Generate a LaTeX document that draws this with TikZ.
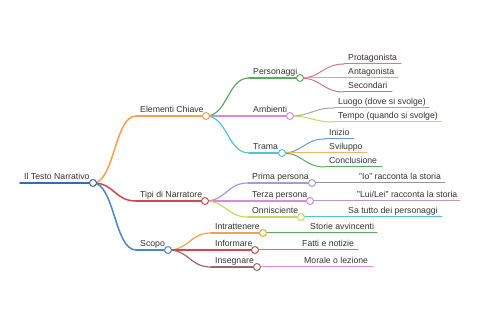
\documentclass[tikz,border=0pt]{standalone}
\usepackage{fontspec}
\setmainfont{Liberation Sans}
\usepackage{xcolor}
\usetikzlibrary{positioning}
\definecolor{textGray}{RGB}{51, 51, 51}
\definecolor{rootBlue}{RGB}{52, 108, 178}
\definecolor{scopoBlue}{RGB}{74, 134, 200}
\definecolor{elemOrange}{RGB}{244, 160, 76}
\definecolor{tipiRed}{RGB}{208, 72, 78}
\definecolor{persGreen}{RGB}{92, 170, 92}
\definecolor{ambPink}{RGB}{216, 138, 216}
\definecolor{tramaCyan}{RGB}{78, 198, 206}
\definecolor{protRose}{RGB}{214, 120, 136}
\definecolor{antLav}{RGB}{184, 166, 224}
\definecolor{secMauve}{RGB}{190, 120, 142}
\definecolor{luogoGray}{RGB}{166, 166, 166}
\definecolor{tempoLime}{RGB}{198, 216, 96}
\definecolor{inizBlue}{RGB}{108, 152, 210}
\definecolor{svilOrange}{RGB}{246, 178, 106}
\definecolor{primaLav}{RGB}{168, 152, 216}
\definecolor{ioGray}{RGB}{156, 138, 168}
\definecolor{luiGray}{RGB}{196, 150, 180}
\definecolor{insBrown}{RGB}{154, 104, 106}
\definecolor{fattiPurple}{RGB}{176, 112, 216}
\definecolor{moralePink}{RGB}{224, 138, 216}

\tikzset{
  mmtext/.style={anchor=base west, inner sep=0pt, text=textGray,
    font=\fontsize{8.7}{10}\selectfont},
  knot/.style={circle, fill=white, minimum size=7pt, inner sep=0pt, line width=1pt},
}

% one node of the map: name, colour, start x, end x, y, text
\newcommand{\mmline}[6]{%
  \coordinate (#1-s) at (#3,#5);
  \coordinate (#1) at (#4,#5);
  \draw[#2] (#1-s) -- (#1);
  \node[mmtext] (#1-t) at (#3+4,#5-3.5) {#6};
}
% link from parent circle to child start
\newcommand{\mmlink}[3]{%
  \draw[#3] (#1) .. controls +(21.5,0) and +(-21.5,0) .. (#2-s);
}

\begin{document}
\begin{tikzpicture}[x=1pt, y=-1pt, line cap=round]
    \useasboundingbox (0,0) rectangle (480,320);
    % Root
    \mmline{root}{rootBlue, line width=1.8pt}{20}{93}{183}{Il Testo Narrativo}
    % Level 1
    \mmline{elem}{elemOrange, line width=1.5pt}{136}{206}{116}{Elementi Chiave}
    \mmline{tipi}{tipiRed, line width=1.5pt}{136}{205}{201}{Tipi di Narratore}
    \mmline{scopo}{scopoBlue, line width=1.5pt}{136}{168}{250}{Scopo}
    \mmlink{root}{elem}{elemOrange, line width=1.5pt}
    \mmlink{root}{tipi}{tipiRed, line width=1.5pt}
    \mmlink{root}{scopo}{scopoBlue, line width=1.5pt}
    % Elementi Chiave
    \mmline{pers}{persGreen, line width=1.2pt}{249}{300}{78}{Personaggi}
    \mmline{amb}{ambPink, line width=1.2pt}{249}{290}{116}{Ambienti}
    \mmline{trama}{tramaCyan, line width=1.2pt}{249}{282}{153}{Trama}
    \mmlink{elem}{pers}{persGreen, line width=1.2pt}
    \mmlink{elem}{amb}{ambPink, line width=1.2pt}
    \mmlink{elem}{trama}{tramaCyan, line width=1.2pt}
    % Tipi di Narratore
    \mmline{prima}{primaLav, line width=1.2pt}{248}{312}{183}{Prima persona}
    \mmline{terza}{ambPink, line width=1.2pt}{248}{310}{201}{Terza persona}
    \mmline{onni}{tempoLime, line width=1.2pt}{248}{301}{217}{Onnisciente}
    \mmlink{tipi}{prima}{primaLav, line width=1.2pt}
    \mmlink{tipi}{terza}{ambPink, line width=1.2pt}
    \mmlink{tipi}{onni}{tempoLime, line width=1.2pt}
    % Scopo
    \mmline{intr}{elemOrange, line width=1.2pt}{211}{263}{233}{Intrattenere}
    \mmline{info}{tipiRed, line width=1.2pt}{211}{255}{250}{Informare}
    \mmline{inse}{insBrown, line width=1.2pt}{211}{257}{267}{Insegnare}
    \mmlink{scopo}{intr}{elemOrange, line width=1.2pt}
    \mmlink{scopo}{info}{tipiRed, line width=1.2pt}
    \mmlink{scopo}{inse}{insBrown, line width=1.2pt}
    % Leaves: Personaggi
    \mmline{prot}{protRose, line width=1pt}{344}{401}{64}{Protagonista}
    \mmline{ant}{antLav, line width=1pt}{344}{398}{78}{Antagonista}
    \mmline{sec}{secMauve, line width=1pt}{344}{392}{92}{Secondari}
    \mmlink{pers}{prot}{protRose, line width=1pt}
    \mmlink{pers}{ant}{antLav, line width=1pt}
    \mmlink{pers}{sec}{secMauve, line width=1pt}
    % Leaves: Ambienti
    \mmline{luogo}{luogoGray, line width=1pt}{334}{429}{108}{Luogo (dove si svolge)}
    \mmline{tempo}{tempoLime, line width=1pt}{334}{441}{122}{Tempo (quando si svolge)}
    \mmlink{amb}{luogo}{luogoGray, line width=1pt}
    \mmlink{amb}{tempo}{tempoLime, line width=1pt}
    % Leaves: Trama
    \mmline{iniz}{inizBlue, line width=1pt}{325}{354}{139}{Inizio}
    \mmline{svil}{svilOrange, line width=1pt}{325}{367}{153}{Sviluppo}
    \mmline{concl}{persGreen, line width=1pt}{325}{382}{167}{Conclusione}
    \mmlink{trama}{iniz}{inizBlue, line width=1pt}
    \mmlink{trama}{svil}{svilOrange, line width=1pt}
    \mmlink{trama}{concl}{persGreen, line width=1pt}
    % Leaves: narratori
    \mmline{io}{ioGray, line width=1pt}{355}{445}{183}{"Io" racconta la storia}
    \mmline{lui}{luiGray, line width=1pt}{353}{460}{201}{"Lui/Lei" racconta la storia}
    \mmline{tutto}{tramaCyan, line width=1pt}{344}{442}{217}{Sa tutto dei personaggi}
    \mmlink{prima}{io}{ioGray, line width=1pt}
    \mmlink{terza}{lui}{luiGray, line width=1pt}
    \mmlink{onni}{tutto}{tramaCyan, line width=1pt}
    % Leaves: scopo
    \mmline{storie}{persGreen, line width=1pt}{306}{377}{233}{Storie avvincenti}
    \mmline{fatti}{fattiPurple, line width=1pt}{298}{358}{250}{Fatti e notizie}
    \mmline{morale}{moralePink, line width=1pt}{300}{373}{267}{Morale o lezione}
    \mmlink{intr}{storie}{persGreen, line width=1pt}
    \mmlink{info}{fatti}{fattiPurple, line width=1pt}
    \mmlink{inse}{morale}{moralePink, line width=1pt}
    % Circles on top
    \node[knot, draw=rootBlue] (root-c) at (root) {};
    \node[knot, draw=elemOrange] (elem-c) at (elem) {};
    \node[knot, draw=tipiRed] (tipi-c) at (tipi) {};
    \node[knot, draw=scopoBlue] (scopo-c) at (scopo) {};
    \node[knot, draw=persGreen] (pers-c) at (pers) {};
    \node[knot, draw=ambPink] (amb-c) at (amb) {};
    \node[knot, draw=tramaCyan] (trama-c) at (trama) {};
    \node[knot, draw=primaLav] (prima-c) at (prima) {};
    \node[knot, draw=ambPink] (terza-c) at (terza) {};
    \node[knot, draw=tempoLime] (onni-c) at (onni) {};
    \node[knot, draw=elemOrange] (intr-c) at (intr) {};
    \node[knot, draw=tipiRed] (info-c) at (info) {};
    \node[knot, draw=insBrown] (inse-c) at (inse) {};
\end{tikzpicture}
\end{document}
